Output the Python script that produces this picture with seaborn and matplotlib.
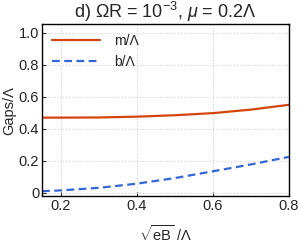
import numpy as np
import pandas as pd
import seaborn as sns
import matplotlib
matplotlib.use("Agg")
import matplotlib.pyplot as plt

eb = [0.15, 0.2, 0.3, 0.4, 0.5, 0.6, 0.7, 0.8]
m_gap = [0.469, 0.469, 0.470, 0.475, 0.484, 0.497, 0.519, 0.549]
b_gap = [0.010, 0.015, 0.031, 0.057, 0.092, 0.134, 0.177, 0.224]

df = pd.DataFrame({"eB": eb * 2,
                   "gap": m_gap + b_gap,
                   "series": ["m/Λ"] * len(eb) + ["b/Λ"] * len(eb)})

sns.set_style("ticks")
plt.rcParams["font.family"] = ["Liberation Sans", "DejaVu Sans"]
plt.rcParams["mathtext.fontset"] = "custom"
plt.rcParams["mathtext.rm"] = "Liberation Sans"
plt.rcParams["mathtext.it"] = "Liberation Sans:italic"

fig, ax = plt.subplots(figsize=(3.0, 2.45), dpi=100)
palette = {"m/Λ": "#D4450C", "b/Λ": "#3366DD"}
sns.lineplot(data=df, x="eB", y="gap", hue="series", style="series",
             dashes={"m/Λ": "", "b/Λ": (3.5, 2)}, palette=palette,
             linewidth=1.6, ax=ax)

ax.set_xlim(0.15, 0.8)
ax.set_ylim(-0.02, 1.05)
ax.set_xticks([0.2, 0.4, 0.6, 0.8])
ax.set_yticks([0, 0.2, 0.4, 0.6, 0.8, 1.0])
ax.set_yticklabels(["0", "0.2", "0.4", "0.6", "0.8", "1.0"])
ax.grid(True, color="#d0d0d0", linestyle=":", linewidth=0.8)
ax.tick_params(direction="in", length=3, labelsize=10.5, width=0.8, pad=2)
for s in ax.spines.values():
    s.set_color("black")
    s.set_linewidth(1.0)

ax.set_xlabel(r"$\sqrt{\mathrm{eB}}$ /Λ", fontsize=10.5, labelpad=8)
ax.set_ylabel("Gaps/Λ", fontsize=10.5, labelpad=2)
ax.set_title(r"d) ΩR = 10$^{-3}$, $\mu$ = 0.2Λ", fontsize=13, pad=3)

leg = ax.legend(loc="upper left", frameon=False, fontsize=10, handlelength=3.5,
                borderaxespad=0.3, handletextpad=1.0)

fig.subplots_adjust(left=0.14, right=0.963, top=0.9, bottom=0.2)
fig.savefig("out.png", dpi=100)
